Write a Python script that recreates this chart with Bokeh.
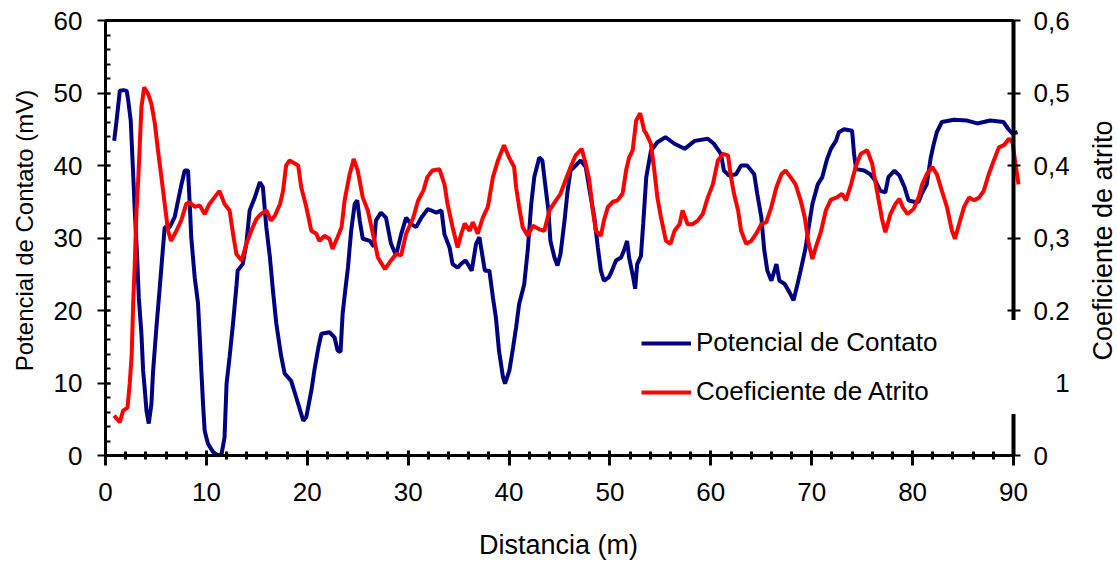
import math
from bokeh.plotting import figure
from bokeh.models import (Range1d, LinearAxis, Legend, LegendItem, Label, FixedTicker,
                          SingleIntervalTicker, CustomJSTickFormatter)
from bokeh.embed import file_html
from bokeh.resources import INLINE

# ---- data ----
dist_pot = [0.86, 1.1, 1.42, 1.8, 2.1, 2.25, 2.5, 2.74, 2.9, 3.14, 3.3, 3.56, 3.73, 3.9, 4.06, 4.29,
            4.55, 4.72, 5.05, 5.38, 5.7, 5.87, 6.37, 6.86, 7.26, 7.5, 7.85, 8.18, 8.35, 8.5, 8.84,
            9.17, 9.34, 9.5, 9.67, 9.83, 10.16, 10.66, 11.15, 11.5, 11.8, 12.0, 12.3, 12.64, 12.97,
            13.1, 13.6, 13.96, 14.29, 14.8, 15.3, 15.6, 15.94, 16.3, 16.6, 16.93, 17.4, 17.76, 18.4,
            19.1, 19.6, 19.9, 20.4, 20.7, 21.1, 21.4, 22.2, 22.7, 23.0, 23.3, 23.5, 23.8, 24.03,
            24.35, 24.7, 24.95, 25.2, 25.5, 26.2, 26.6, 26.8, 27.3, 27.8, 28.3, 28.8, 29.3, 29.8,
            30.3, 30.8, 31.3, 31.95, 32.8, 33.3, 33.6, 34.1, 34.4, 34.9, 35.3, 35.7, 36.3, 36.73,
            37.06, 37.6, 38.05, 38.4, 38.7, 39.0, 39.4, 39.6, 40.03, 40.4, 40.7, 41.0, 41.5, 41.85,
            42.2, 42.5, 43.0, 43.3, 43.66, 43.9, 44.1, 44.5, 44.8, 45.1, 45.5, 45.8, 46.1, 46.6,
            47.1, 47.6, 48.1, 48.45, 48.8, 49.1, 49.4, 49.9, 50.2, 50.6, 51.1, 51.4, 51.7, 51.9,
            52.3, 52.5, 52.7, 53.07, 53.3, 53.6, 54.06, 54.7, 55.5, 56.4, 57.4, 58.4, 59.7, 60.3,
            61.0, 61.3, 61.8, 62.5, 63.0, 63.6, 64.3, 64.6, 65.0, 65.3, 65.6, 66.0, 66.5, 66.8,
            67.3, 67.8, 68.2, 68.6, 68.9, 69.4, 69.7, 70.07, 70.6, 71.05, 71.5, 71.9, 72.4, 72.7,
            73.2, 74.0, 74.2, 74.4, 75.2, 75.8, 76.3, 76.8, 77.3, 77.6, 78.2, 78.7, 79.2, 79.6,
            80.1, 80.6, 80.9, 81.4, 81.8, 82.1, 82.4, 82.9, 84.1, 85.4, 86.4, 87.7, 89.0, 89.5,
            89.9, 90.4]
potencial = [43.4, 46.2, 50.3, 50.4, 50.3, 49.0, 46.2, 38.9, 33.8, 27.3, 21.8, 16.8, 11.7, 9.0, 6.2, 4.4,
             7.1, 11.7, 17.7, 23.2, 28.7, 31.5, 31.5, 32.9, 35.6, 37.2, 39.3, 39.3, 34.7, 30.1, 24.6,
             21.0, 16.4, 11.7, 7.1, 3.4, 1.6, 0.5, 0.0, 0.2, 2.5, 9.9, 13.6, 18.2, 23.2,
             25.5, 26.4, 29.2, 33.8, 35.6, 37.7, 37.0, 31.5, 27.3, 22.7, 18.2, 13.8, 11.3, 10.3,
             7.1, 4.8, 5.3, 8.9, 11.7, 14.9, 16.8, 17.0, 16.3, 14.5, 14.3, 19.5, 23.2, 25.9,
             31.0, 34.7, 35.2, 32.4, 29.9, 29.6, 28.8, 32.4, 33.5, 32.8, 29.2, 27.6, 30.5, 32.8,
             31.9, 31.5, 32.8, 34.0, 33.5, 33.8, 30.5, 28.7, 26.4, 25.9, 26.5, 26.9, 25.5, 29.2,
             30.1, 25.5, 25.5, 21.8, 19.0, 14.5, 10.8, 9.9, 11.7, 14.9, 17.7, 20.9, 23.6, 28.3,
             34.7, 38.4, 41.1, 40.7, 36.5, 33.8, 29.6, 27.3, 26.2, 27.8, 32.4, 36.5, 39.3, 40.0,
             40.7, 39.8, 35.6, 32.9, 28.7, 25.5, 24.1, 24.6, 25.5, 26.9, 27.3, 28.3, 29.6, 27.3,
             24.6, 23.0, 26.4, 27.5, 32.0, 38.4, 42.0, 43.2, 43.9, 43.0, 42.3, 43.4, 43.7, 43.0,
             41.6, 39.3, 38.6, 38.8, 40.0, 40.0, 38.8, 36.1, 32.9, 28.3, 25.5, 24.1, 26.4, 24.1,
             23.7, 22.5, 21.4, 23.7, 25.5, 28.7, 31.5, 34.7, 37.4, 38.4, 40.8, 42.3, 43.4, 44.6,
             45.0, 44.8, 41.6, 39.5, 39.3, 38.8, 37.9, 36.5, 36.3, 38.4, 39.3, 38.6, 37.0, 35.2,
             35.0, 35.0, 36.1, 37.4, 41.1, 43.0, 44.6, 46.0, 46.3, 46.2, 45.8, 46.2, 46.0, 45.0,
             44.4, 44.6]

dist_coef = [0.86, 1.42, 1.75, 2.18, 2.4, 2.6, 2.74, 2.9, 3.07, 3.24, 3.4, 3.56, 3.83, 4.22, 4.55,
             4.9, 5.2, 5.54, 5.87, 6.2, 6.5, 7.03, 7.5, 8.0, 8.35, 8.84, 9.34, 9.83, 10.3, 10.8,
             11.3, 11.8, 12.3, 12.64, 12.97, 13.5, 13.96, 14.45, 14.95, 15.4, 15.94, 16.4, 16.8,
             17.3, 17.6, 17.9, 18.25, 19.1, 19.4, 19.9, 20.4, 20.9, 21.2, 21.7, 22.2, 22.5, 23.0,
             23.4, 23.7, 24.2, 24.6, 25.0, 25.5, 26.0, 26.5, 27.0, 27.7, 28.3, 28.8, 29.3, 29.8,
             30.5, 31.0, 31.5, 31.9, 32.4, 33.1, 33.6, 33.9, 34.4, 34.9, 35.25, 35.6, 36.1, 36.4,
             36.9, 37.4, 37.9, 38.4, 38.9, 39.5, 40.0, 40.5, 40.7, 41.0, 41.35, 41.85, 42.35, 43.0,
             43.5, 44.0, 44.65, 45.1, 45.6, 46.1, 46.6, 47.2, 47.6, 47.95, 48.3, 48.6, 49.1, 49.4,
             49.8, 50.3, 50.76, 51.25, 51.6, 51.9, 52.25, 52.6, 53.0, 53.4, 53.6, 54.06, 54.4,
             54.7, 55.05, 55.55, 56.0, 56.4, 56.9, 57.2, 57.7, 58.2, 58.7, 59.2, 59.7, 60.2, 60.7,
             61.2, 61.7, 62.0, 62.3, 62.7, 63.0, 63.5, 64.0, 64.5, 65.0, 65.5, 66.0, 66.5, 67.0,
             67.4, 67.9, 68.4, 68.9, 69.3, 69.7, 70.07, 70.4, 70.9, 71.4, 71.9, 72.5, 73.0, 73.4,
             73.9, 74.35, 74.85, 75.5, 76.0, 76.4, 76.7, 77.0, 77.3, 77.8, 78.3, 78.7, 79.0, 79.5,
             80.1, 80.6, 80.95, 81.4, 81.95, 82.4, 82.9, 83.4, 83.9, 84.2, 84.6, 85.1, 85.6, 86.1,
             86.6, 87.05, 87.55, 88.05, 88.55, 89.05, 89.55, 89.9, 90.2, 90.5]
coeficiente = [0.055, 0.046, 0.062, 0.066, 0.099, 0.140, 0.209, 0.264, 0.338, 0.379, 0.430, 0.480,
               0.508, 0.499, 0.485, 0.457, 0.421, 0.384, 0.347, 0.310, 0.296, 0.310, 0.324, 0.347,
               0.349, 0.343, 0.345, 0.333, 0.347, 0.356, 0.365, 0.347, 0.338, 0.306, 0.278, 0.269,
               0.292, 0.310, 0.326, 0.333, 0.338, 0.324, 0.331, 0.347, 0.365, 0.400, 0.407, 0.400,
               0.370, 0.343, 0.310, 0.306, 0.296, 0.303, 0.299, 0.285, 0.301, 0.315, 0.352, 0.388,
               0.409, 0.393, 0.356, 0.338, 0.306, 0.273, 0.257, 0.269, 0.278, 0.276, 0.306, 0.328,
               0.352, 0.365, 0.384, 0.393, 0.395, 0.374, 0.347, 0.315, 0.287, 0.305, 0.320, 0.310,
               0.322, 0.306, 0.328, 0.343, 0.384, 0.407, 0.428, 0.411, 0.398, 0.370, 0.343, 0.315,
               0.303, 0.317, 0.312, 0.310, 0.338, 0.352, 0.361, 0.380, 0.398, 0.414, 0.423, 0.402,
               0.380, 0.338, 0.310, 0.303, 0.324, 0.343, 0.350, 0.352, 0.361, 0.393, 0.411, 0.421,
               0.462, 0.472, 0.448, 0.444, 0.430, 0.393, 0.356, 0.329, 0.296, 0.292, 0.310, 0.319,
               0.338, 0.319, 0.319, 0.324, 0.333, 0.356, 0.374, 0.407, 0.416, 0.414, 0.384, 0.361,
               0.338, 0.310, 0.292, 0.296, 0.306, 0.319, 0.322, 0.343, 0.370, 0.388, 0.393, 0.384,
               0.374, 0.352, 0.329, 0.292, 0.271, 0.287, 0.308, 0.338, 0.353, 0.356, 0.361, 0.352,
               0.374, 0.398, 0.416, 0.421, 0.402, 0.370, 0.347, 0.324, 0.308, 0.333, 0.347, 0.354,
               0.343, 0.333, 0.340, 0.356, 0.374, 0.388, 0.398, 0.388, 0.365, 0.343, 0.310, 0.299,
               0.319, 0.343, 0.356, 0.352, 0.356, 0.365, 0.388, 0.407, 0.425, 0.428, 0.437, 0.432,
               0.402, 0.374]

x_title = "Distancia (m)"
y_title = "Potencial de Contato (mV)"
y2_title = "Coeficiente de atrito"
name_pot = "Potencial de Contato"
name_coef = "Coeficiente de Atrito"
coef_ticks = [0, 0.1, 0.2, 0.3, 0.4, 0.5, 0.6]
X_MAX = 90       # end of the distance axis
Y_MAX = 60       # end of the potential axis
COEF_MAX = 0.6   # end of the friction axis

FONT = "Liberation Sans"
NAVY = "#000080"
RED = "#FF0000"

# ---- layout (pixels) ----
W, H = 1117, 562
X0_PX, X90_PX = 105, 1013       # x = 0 and x = 90 on the page
Y60_PX, Y0_PX = 20, 455         # y = 60 and y = 0 on the page

# The drawing frame covers the whole page; every axis is pinned at its data
# position, so the axes, their labels and the legend share one drawing area.
ppx = (X90_PX - X0_PX) / X_MAX
ppy = (Y0_PX - Y60_PX) / Y_MAX
x_start, x_end = -X0_PX / ppx, (W - X0_PX) / ppx
y_start, y_end = -(H - Y0_PX) / ppy, Y_MAX + Y60_PX / ppy
scale2 = COEF_MAX / Y_MAX

p = figure(width=W, height=H, output_backend="svg", toolbar_location=None,
           x_range=Range1d(x_start, x_end), y_range=Range1d(y_start, y_end),
           min_border_left=0, min_border_right=0, min_border_top=0, min_border_bottom=0,
           background_fill_color="white", border_fill_color="white")
p.outline_line_color = None
p.xgrid.visible = False
p.ygrid.visible = False
p.extra_y_ranges = {"coef": Range1d(y_start * scale2, y_end * scale2)}

r1 = p.line(dist_pot, potencial, line_color=NAVY, line_width=4)
r2 = p.line(dist_coef, coeficiente, line_color=RED, line_width=4, y_range_name="coef")

# bottom axis, pinned at y = 0
xa = p.xaxis[0]
xa.fixed_location = 0
xa.ticker = SingleIntervalTicker(interval=10, num_minor_ticks=5)
xa.bounds = (0, X_MAX)
xa.axis_line_width = 3
xa.major_tick_line_width = 3
xa.minor_tick_line_width = 3
xa.major_tick_in = 5
xa.major_tick_out = 10
xa.minor_tick_in = 4
xa.minor_tick_out = 4
xa.major_label_standoff = 17
xa.major_label_text_font = FONT
xa.major_label_text_font_size = "26px"
xa.major_label_text_color = "black"

# left axis, pinned at x = 0
ya = p.yaxis[0]
ya.fixed_location = 0
ya.ticker = SingleIntervalTicker(interval=10, num_minor_ticks=5)
ya.bounds = (0, Y_MAX)
ya.axis_line_width = 3
ya.major_tick_line_width = 2
ya.minor_tick_line_width = 2
ya.major_tick_in = 5
ya.major_tick_out = 8
ya.minor_tick_in = 5
ya.minor_tick_out = 0
ya.major_label_standoff = 15
ya.major_label_text_font = FONT
ya.major_label_text_font_size = "26px"
ya.major_label_text_color = "black"

# right axis, pinned at x = 90
ra = LinearAxis(y_range_name="coef", fixed_location=X_MAX, bounds=(0, COEF_MAX),
                ticker=FixedTicker(ticks=coef_ticks, minor_ticks=[]),
                formatter=CustomJSTickFormatter(code="""
                    if (tick == 0) return "0";
                    const s = tick.toFixed(1);
                    return Math.abs(tick - 0.2) < 1e-9 ? s : s.replace(".", ",");
                """))
ra.axis_line_width = 4
ra.major_tick_line_width = 2
ra.major_tick_in = 6
ra.major_tick_out = 7
ra.minor_tick_in = 0
ra.minor_tick_out = 0
ra.major_label_standoff = 13
ra.major_label_text_font = FONT
ra.major_label_text_font_size = "26px"
ra.major_label_text_color = "black"
p.add_layout(ra, "right")

# top frame line, pinned at y = 60
ta = LinearAxis(ticker=FixedTicker(ticks=[]), fixed_location=Y_MAX, bounds=(0, X_MAX),
                axis_line_width=3, major_tick_in=0, major_tick_out=0,
                minor_tick_in=0, minor_tick_out=0)
p.add_layout(ta, "above")

# titles (screen units, measured from the bottom-left corner of the page)
p.add_layout(Label(x=24, y=H - 230, x_units="screen", y_units="screen", text=y_title,
                   angle=math.pi / 2, text_align="center", text_baseline="middle",
                   text_font=FONT, text_font_size="24px", text_color="black"))
p.add_layout(Label(x=558, y=H - 544, x_units="screen", y_units="screen", text=x_title,
                   text_align="center", text_baseline="middle",
                   text_font=FONT, text_font_size="27px", text_color="black"))
p.add_layout(Label(x=1102, y=H - 240, x_units="screen", y_units="screen", text=y2_title,
                   angle=math.pi / 2, text_align="center", text_baseline="middle",
                   text_font=FONT, text_font_size="27px", text_color="black"))

legend = Legend(items=[LegendItem(label=name_pot, renderers=[r1]),
                       LegendItem(label=name_coef, renderers=[r2])],
                location=(634, 148), margin=0, padding=6, spacing=18,
                glyph_width=50, glyph_height=24, label_height=24, label_width=354,
                label_standoff=5, label_text_font=FONT, label_text_font_size="26px",
                label_text_color="black",
                background_fill_color="white", background_fill_alpha=1.0,
                border_line_color="white", border_line_width=1)
p.add_layout(legend, "center")

open("out.html", "w").write(file_html(p, INLINE))
